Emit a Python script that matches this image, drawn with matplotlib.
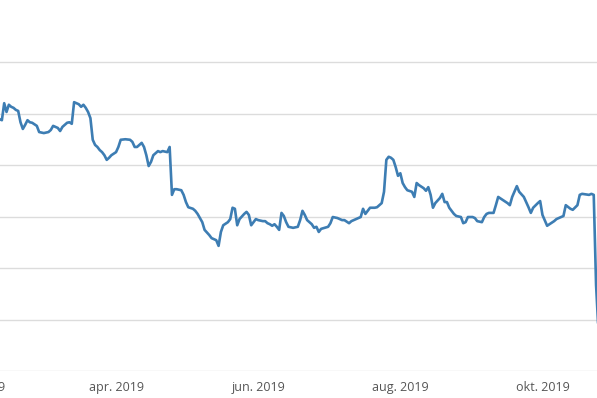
import matplotlib
matplotlib.use("Agg")
import matplotlib.pyplot as plt
import matplotlib.dates as mdates
import pandas as pd

# days since 2019-01-01
days = [39, 40, 41, 42, 43, 44, 45, 46, 47, 48, 49, 50, 51, 52, 53, 54, 56, 57, 59, 61,
        62, 63, 65, 66, 67, 69, 70, 71, 72, 74, 75, 76, 77, 78, 79, 80, 81, 82, 83, 84,
        85, 86, 87, 88, 90, 91, 92, 94, 96, 97, 98, 99, 100, 101, 102, 103, 104, 105, 106, 108,
        109, 110, 112, 113, 114, 115, 116, 118, 119, 120, 121, 123, 124, 125, 127, 128, 130, 131, 133, 134,
        135, 136, 138, 139, 140, 141, 142, 143, 145, 146, 147, 148, 150, 151, 153, 154, 155, 156, 157, 158,
        159, 160, 161, 162, 163, 164, 166, 168, 169, 170, 171, 172, 174, 175, 176, 177, 178, 181, 182, 183,
        185, 187, 188, 190, 191, 193, 195, 196, 197, 198, 199, 201, 202, 204, 205, 206, 207, 208, 209, 210,
        211, 212, 213, 214, 215, 217, 218, 219, 220, 222, 223, 224, 225, 226, 227, 229, 230, 231, 232, 233,
        235, 236, 238, 239, 240, 241, 243, 244, 245, 247, 248, 249, 250, 252, 253, 254, 256, 258, 259, 260,
        262, 263, 265, 266, 267, 268, 269, 271, 272, 273, 275, 276, 278, 279, 281, 282, 283, 285, 286, 288,
        289, 290, 293, 294, 295, 296, 297]

values = [49.1, 48.9, 48.7, 52.0, 50.3, 51.7, 51.3, 51.1, 50.7, 50.5, 48.3, 47.0, 47.8, 48.7, 48.3, 48.2, 47.6, 46.4, 46.2, 46.4,
          46.8, 47.6, 47.2, 46.6, 47.4, 48.2, 48.3, 48.0, 52.2, 51.8, 51.3, 51.7, 51.1, 50.3, 49.1, 44.9, 43.9, 43.5, 42.9, 42.5,
          41.9, 41.0, 41.4, 41.9, 42.5, 43.5, 44.9, 45.0, 44.9, 44.5, 43.5, 43.5, 43.9, 44.3, 43.5, 41.9, 39.8, 40.6, 41.9, 42.7,
          42.5, 42.7, 42.5, 43.5, 34.2, 35.3, 35.3, 35.1, 34.2, 32.8, 31.8, 31.5, 31.1, 30.5, 28.9, 27.4, 26.4, 25.8, 25.4, 24.3,
          27.0, 28.3, 28.9, 29.5, 31.7, 31.5, 28.3, 29.5, 30.5, 30.9, 30.3, 28.3, 29.5, 29.3, 29.1, 29.1, 28.7, 28.5, 28.2, 28.5,
          28.0, 27.4, 30.7, 30.1, 28.9, 28.0, 27.8, 28.0, 29.3, 31.1, 30.3, 29.3, 28.5, 27.8, 28.0, 27.0, 27.6, 28.0, 28.7, 29.9,
          29.7, 29.3, 29.3, 28.7, 29.1, 29.5, 29.9, 31.5, 30.5, 31.1, 31.7, 31.7, 31.8, 32.6, 34.8, 41.0, 41.6, 41.4, 41.0, 39.6,
          37.9, 38.4, 36.5, 35.7, 35.1, 34.8, 33.8, 36.5, 36.1, 35.5, 35.0, 35.7, 34.2, 31.7, 32.6, 33.6, 34.4, 32.8, 32.8, 31.7,
          30.5, 30.1, 29.9, 28.7, 28.9, 29.9, 29.9, 29.7, 29.1, 28.9, 29.9, 30.5, 30.7, 30.7, 32.2, 33.8, 33.2, 32.6, 32.2, 33.8,
          35.9, 34.8, 33.8, 32.8, 31.8, 30.7, 31.7, 32.6, 33.0, 30.3, 28.2, 28.5, 29.1, 29.5, 29.9, 30.1, 32.2, 31.5, 31.3, 32.2,
          34.2, 34.4, 34.2, 34.4, 34.2, 16.7, 8.0]

tick_dates = ["2019-02-01", "2019-04-01", "2019-06-01", "2019-08-01", "2019-10-01"]
tick_labels = ["feb. 2019", "apr. 2019", "jun. 2019", "aug. 2019", "okt. 2019"]
y_grid = [0, 10, 20, 30, 40, 50, 60]

base = pd.Timestamp("2019-01-01")
dates = [base + pd.Timedelta(days=d) for d in days]

fig = plt.figure(figsize=(5.97, 3.98), dpi=100)
ax = fig.add_axes([0, 27 / 398, 1, 371 / 398])

ax.plot(dates, values, color="#3d7db3", lw=1.9, solid_joinstyle="round", zorder=3, clip_on=True)

ax.set_yticks(y_grid)
ax.yaxis.grid(True, color="#dcdcdc", lw=1.0)
ax.set_axisbelow(True)
ax.tick_params(axis="y", left=False, labelleft=False)
ax.set_xticks([])
ax.set_xlim(base + pd.Timedelta(days=40.2), base + pd.Timedelta(days=296.4))
ax.set_ylim(0, 72.04)
for s in ax.spines.values():
    s.set_visible(False)

# date labels as text so the partly visible first label is still drawn
trans = ax.get_xaxis_transform()
for d, lab in zip(pd.to_datetime(tick_dates), tick_labels):
    ax.annotate(lab, xy=(mdates.date2num(d), 0), xycoords=trans, xytext=(0, -7),
                textcoords="offset points", ha="center", va="top", fontsize=9,
                color="#555555", family=["Open Sans", "DejaVu Sans"], annotation_clip=False)

fig.savefig("out.png", dpi=100)
